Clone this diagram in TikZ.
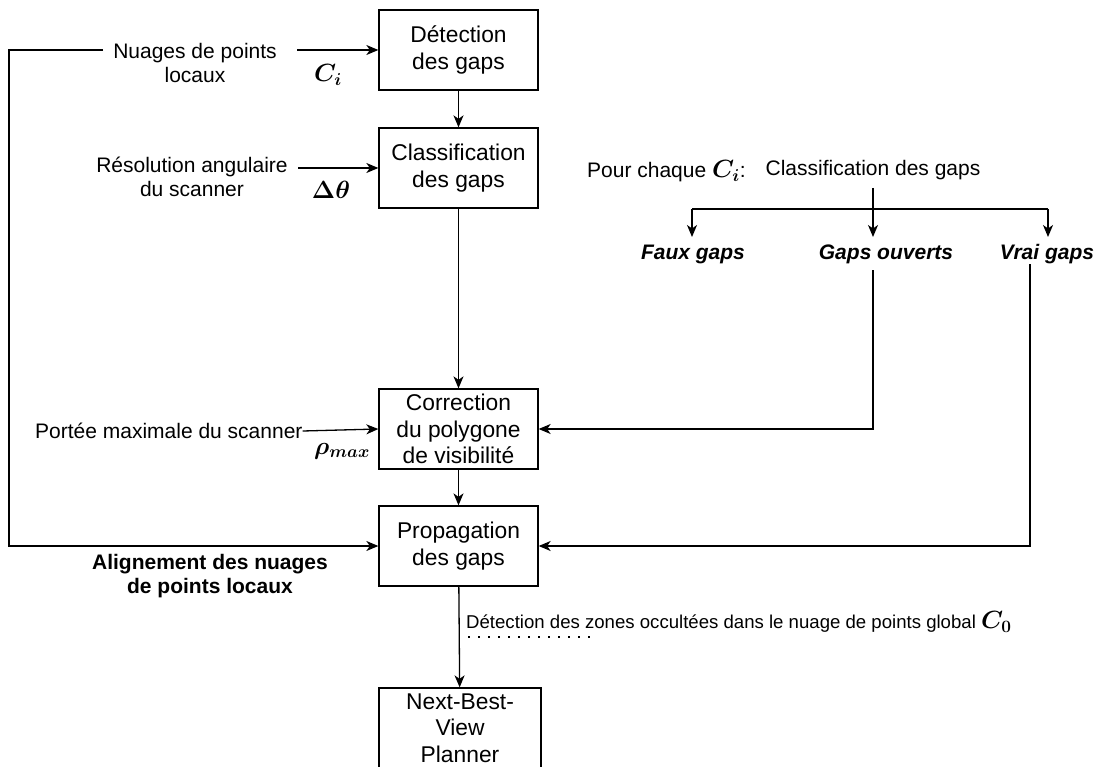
\documentclass[tikz,border=0pt]{standalone}
\usepackage{amsmath}
\usepackage[no-math]{fontspec}
\setmainfont{Liberation Sans}
\usetikzlibrary{arrows.meta}
\begin{document}
\begin{tikzpicture}[x=1pt,y=-1pt,
  box/.style={draw, line width=1.3pt, minimum width=159pt, minimum height=80pt, align=center, inner sep=0pt, font=\fontsize{22.8}{26.5}\selectfont},
  lbl/.style={align=center, inner sep=0pt, font=\fontsize{21}{23.5}\selectfont},
  mth/.style={inner sep=0pt, font=\fontsize{25}{27}\selectfont},
  conn/.style={line width=1.3pt},
  arr/.style={conn, -{Stealth[length=12pt,width=10pt,inset=3.5pt]}},
  gap/.style={inner sep=0pt, font=\fontsize{21}{23.5}\selectfont\bfseries\itshape}
]
\useasboundingbox (0,0) rectangle (1099,767);

% main boxes
\node[box] (det) at (458.5,50) {Détection\\des gaps};
\node[box] (cla) at (458.5,168) {Classification\\des gaps};
\node[box] (cor) at (458.5,429) {Correction\\du polygone\\de visibilité};
\node[box] (pro) at (458.5,546) {Propagation\\des gaps};
\node[box, minimum width=162pt] (nbv) at (460,728) {Next-Best-\\View\\Planner};

% left labels
\node[lbl] (nua) at (195,63) {Nuages de points\\locaux};
\node[mth] (ci) at (328,75) {$\boldsymbol{C_i}$};
\node[lbl] (res) at (192,177) {Résolution angulaire\\du scanner};
\node[mth] (dt) at (331,190) {$\boldsymbol{\Delta\theta}$};
\node[lbl, anchor=west] (por) at (35,431) {Portée maximale du scanner};
\node[mth] (rho) at (342,451) {$\boldsymbol{\rho_{max}}$};
\node[lbl, font=\fontsize{21}{23.5}\selectfont\bfseries] (ali) at (210,576) {Alignement des nuages\\de points locaux};

\coordinate (nuaL) at (103,50);
\coordinate (nuaR) at (297,50);
\coordinate (loopTL) at (9,50);
\coordinate (resR) at (298,168);

\draw[arr] (nuaR) -- (det.west);
\draw[arr] (nuaL) -- (loopTL) |- (pro.west);
\draw[arr] (det) -- (cla);
\draw[arr] (resR) -- (cla.west);
\draw[arr] (cla) -- (cor);
\draw[arr] (por.east) -- (cor.west);
\draw[arr] (cor) -- (pro);
\draw[arr] (pro) -- (nbv);

% right part
\node[lbl, anchor=west] (pour) at (587,171) {Pour chaque {\fontsize{25}{27}\selectfont$\boldsymbol{C_i}$}:};
\node[lbl] (clg) at (873,170) {Classification des gaps};
\node[gap] (faux) at (693,254) {Faux gaps};
\node[gap] (ouv) at (886,254) {Gaps ouverts};
\node[gap] (vrai) at (1047,254) {Vrai gaps};

\coordinate (clgS) at (873,188);
\coordinate (ouvT) at (873,237);
\coordinate (hl) at (692,209);
\coordinate (hr) at (1048,209);
\coordinate (fauxT) at (692,237);
\coordinate (vraiT) at (1048,237);
\coordinate (ouvB) at (873,270);
\coordinate (vraiB) at (1030,264);

\draw[arr] (clgS) -- (ouvT);
\draw[conn] (hl) -- (hr);
\draw[arr] (hl) -- (fauxT);
\draw[arr] (hr) -- (vraiT);
\draw[arr] (ouvB) |- (cor.east);
\draw[arr] (vraiB) |- (pro.east);

% bottom label
\node[anchor=west, inner sep=0pt, font=\fontsize{18.6}{22}\selectfont] (occ) at (466,622) {Détection des zones occultées dans le nuage de points global {\fontsize{23}{25}\selectfont$\boldsymbol{C_0}$}};
\coordinate (dotL) at (468,637);
\coordinate (dotR) at (597,637);
\draw[line width=1.6pt, dash pattern=on 1.6pt off 8.4pt] (dotL) -- (dotR);
\end{tikzpicture}
\end{document}
